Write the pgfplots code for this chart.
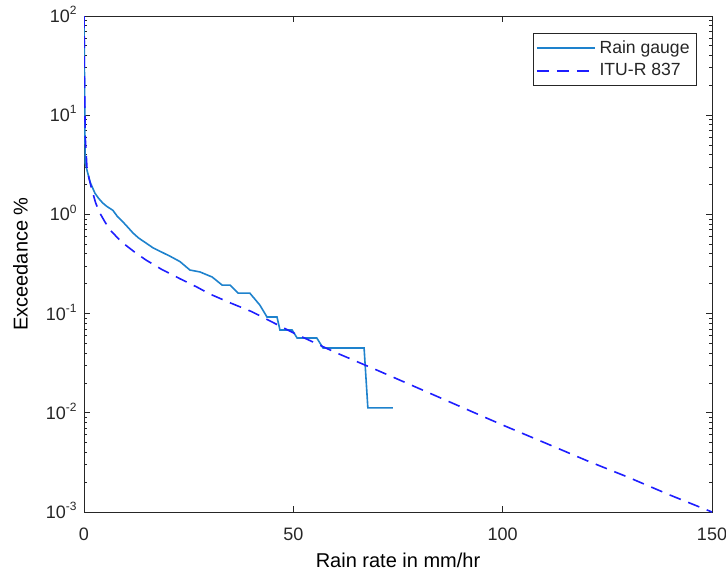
\documentclass[border=0pt]{standalone}
\usepackage{fontspec}
\setmainfont{Liberation Sans}
\usepackage{pgfplots}
\pgfplotsset{compat=1.18}

\definecolor{gauge}{RGB}{30,130,205}
\definecolor{itu}{RGB}{30,30,255}
\definecolor{axgray}{gray}{0.15}

\begin{document}
\begin{tikzpicture}
\begin{semilogyaxis}[
    width=314pt, height=248pt,
    scale only axis,
    xmin=0, xmax=150,
    ymin=1e-3, ymax=1e2,
    xtick={0,50,100,150},
    ytick={1e-3,1e-2,1e-1,1,10,100},
    yticklabels={10\textsuperscript{-3},10\textsuperscript{-2},10\textsuperscript{-1},10\textsuperscript{0},10\textsuperscript{1},10\textsuperscript{2}},
    /pgf/number format/assume math mode=true,
    tick align=inside,
    major tick length=3pt,
    minor tick length=1.6pt,
    axis line style={axgray, line width=0.5pt},
    every tick/.style={axgray, line width=0.4pt},
    tick label style={font=\fontsize{9}{10}\selectfont, text=axgray},
    xticklabel style={anchor=base, yshift=-14pt},
    yticklabel style={anchor=base east, yshift=-3.2pt, xshift=-3pt, inner sep=0pt},
    xlabel={Rain rate in mm/hr},
    ylabel={Exceedance \%},
    label style={font=\fontsize{10.8}{12}\selectfont, text=axgray},
    every axis x label/.style={at={(axis description cs:0.5,-0.1109)}, anchor=base},
    every axis y label/.style={at={(axis description cs:-0.1011,0.5)}, rotate=90, anchor=center},
    legend style={at={(1,1)}, anchor=north east, xshift=-7.5pt, yshift=-8.5pt,
        draw=axgray, font=\fontsize{8.8}{10}\selectfont, text=axgray,
        inner xsep=1.5pt, inner ysep=1.5pt, row sep=-0.5pt, cells={anchor=west}},
    legend image code/.code={\draw[#1] (0pt,0pt) -- (29pt,0pt);},
]
% Rain gauge
\addplot[gauge, line width=0.8pt] coordinates {
    (0,100) (0.1,30) (0.2,8) (0.3,3.3) (0.8,2.7) (1.5,2.1) (2.6,1.64)
    (3.5,1.45) (4.5,1.3) (5.5,1.2) (6.9,1.1) (8,0.95) (9.3,0.84)
    (10.5,0.74) (11.7,0.65) (13,0.58) (14.8,0.515) (16.5,0.46)
    (18.9,0.41) (20.5,0.38) (22.9,0.335) (25.3,0.275) (27.7,0.263)
    (30.6,0.234) (33.0,0.194) (34.9,0.194) (36.8,0.161) (39.6,0.161)
    (42.0,0.122) (43.7,0.0925) (46.1,0.0925) (46.8,0.0684) (49.7,0.0684)
    (50.9,0.0568) (55.6,0.0568) (57.1,0.045) (66.9,0.045) (67.8,0.0112)
    (73.8,0.0112)
};
% ITU-R 837
\addplot[itu, line width=0.8pt, dash pattern=on 6pt off 4pt] coordinates {
    (0.02,100) (0.1,25) (0.3,6) (0.7,3) (1.2,2.3) (1.9,1.76) (2.8,1.3)
    (3.8,1.03) (5,0.84) (6.2,0.70) (7.7,0.6) (9.3,0.515) (12,0.42)
    (14.8,0.347) (18.5,0.28) (22.9,0.225) (27,0.185) (30,0.158)
    (35,0.128) (40,0.105) (45,0.082) (50,0.064) (60,0.0407) (70,0.0269)
    (80,0.0176) (90,0.0115) (100,0.00753) (110,0.0050) (120,0.00331)
    (130,0.00224) (140,0.00148) (150,0.001)
};
\legend{Rain gauge, ITU-R 837}
\end{semilogyaxis}
\pgfresetboundingbox
\useasboundingbox ([xshift=-42pt,yshift=-31.5pt]current axis.south west)
    rectangle ([xshift=7pt,yshift=8pt]current axis.north east);
\end{tikzpicture}
\end{document}
